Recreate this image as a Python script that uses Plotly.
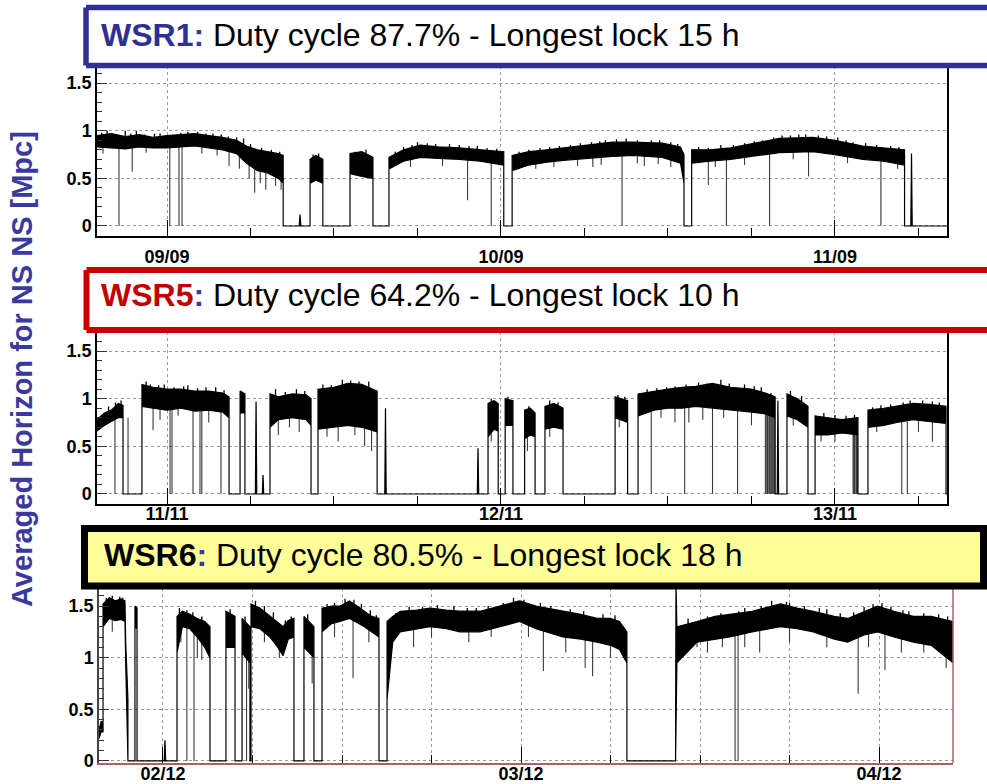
import numpy as np
import plotly.graph_objects as go

W, H = 987, 784

# ---------------- DATA (hours relative to the first labelled day) ----------------
# Panel 1 : WSR1  (envelope of the averaged NS-NS horizon, Mpc)
wsr1_t  = [-5.03, -4, -3, -2, -1, 0, 1, 2, 3, 4, 5, 5.7, 6.5, 7.2, 8, 8.35, 8.35,
           9.5, 9.56, 9.62, 10.28, 10.28, 10.7, 11.2, 11.2, 13.15, 13.15, 14, 14.8, 14.8,
           15.95, 15.95, 17, 18.2, 19.5, 21, 22.5, 24.2, 24.2, 24.8, 24.8, 26, 27.3, 28.5,
           30, 32, 33.5, 35.6, 36.9, 37.15, 37.15, 37.7, 37.7, 39, 40.5, 42, 44, 46.4, 48,
           50, 51.5, 53.0, 53.0, 53.45, 53.5, 53.55, 56.05]
wsr1_hi = [.95, .97, .94, .96, .93, .95, .96, .97, .95, .93, .90, .84, .80, .78, .76, .74, 0,
           0, .12, 0, 0, .70, .74, .70, 0, 0, .76, .78, .72, 0,
           0, .72, .80, .85, .83, .82, .80, .78, 0, 0, .74, .78, .80, .82,
           .85, .88, .88, .87, .83, .75, 0, 0, .80, .80, .82, .86, .92, .93, .90,
           .84, .82, .80, 0, 0, .76, 0, 0]
wsr1_lo = [.83, .82, .81, .83, .82, .82, .83, .84, .82, .80, .76, .66, .58, .56, .50, .45, 0,
           0, 0, 0, 0, .45, .48, .45, 0, 0, .55, .52, .50, 0,
           0, .60, .68, .72, .71, .70, .68, .64, 0, 0, .58, .64, .67, .69,
           .71, .73, .74, .72, .66, .45, 0, 0, .66, .68, .70, .73, .77, .78, .75,
           .70, .68, .64, 0, 0, 0, 0, 0]
wsr1_dip_t = [-3.45, -2.5, 0.2, 0.86, 1.08, 4.46, 6.3, 7.1, 7.8, 21.6, 23.3, 32.7,
              38.9, 40.2, 43.3, 46.1, 51.3,
              -4.6, -1.5, 2.5, 3.6, 5.2, 5.9, 6.7, 8.2, 17.5, 19.8, 26.5, 27.8, 29.5,
              30.6, 31.2, 33.8, 34.3, 35.3, 36.2, 39.4, 41.5, 45.0, 48.9, 52.5]
wsr1_dip_y = [0, .57, 0, 0, 0, .63, .35, .38, .42, .27, 0, 0,
              .43, 0, 0, .52, 0,
              .76, .77, .76, .74, .60, .50, .45, .38, .62, .63, .60, .62, .63,
              .62, .64, .66, .63, .65, .62, .62, .64, .70, .66, .60]
wsr1_peak_t = [-4.7, -4.3, -3.8, -3.0, -2.6, -2.2, -1.6, -0.9, -0.5, 0.4, 1.0, 1.5, 2.2, 2.8,
               3.3, 3.9, 4.4, 5.0, 5.5, 6.0, 6.8, 7.5, 8.1, 10.5, 10.9, 13.5, 14.3,
               16.4, 17.0, 17.6, 18.0, 18.7, 19.3, 20.3, 21.0, 21.7, 22.3, 23.0, 23.7,
               25.3, 26.0, 26.8, 27.5, 28.2, 29.0, 29.7, 30.5, 31.1, 31.5, 32.3, 33.0, 33.8,
               34.8, 35.4, 36.2, 36.7, 38.2, 38.9, 39.8, 40.7, 41.5, 42.2, 42.8, 43.6, 44.2,
               44.8, 45.4, 45.9, 46.8, 47.4, 48.2, 48.8, 49.3, 50.2, 51.0, 52.0, 52.6]
wsr1_peak_y = [.98, 1.0, .96, 1.0, .97, 1.0, .96, .97, .97, .96, .98, .99, .99, .97,
               .97, .96, .94, .93, .92, .86, .82, .80, .78, .75, .76, .78, .80,
               .78, .83, .85, .88, .87, .86, .86, .85, .84, .84, .82, .81,
               .78, .80, .82, .83, .84, .85, .87, .88, .89, .90, .91, .92, .90,
               .90, .90, .88, .86, .83, .82, .85, .85, .87, .89, .90, .93, .95,
               .95, .96, .96, .95, .94, .93, .90, .88, .87, .85, .84, .83]

# Panel 2 : WSR5
wsr5_t  = [-5.03, -4.5, -4.0, -3.5, -3.16, -3.16, -1.8, -1.8, -1.0, 0, 1, 2, 3, 4, 4.46, 4.46,
           5.25, 5.25, 5.6, 5.6, 6.35, 6.4, 6.45, 6.85, 6.9, 6.95, 7.4, 7.4, 8.0, 9.0, 10.0,
           10.35, 10.35, 10.85, 10.85, 12, 13, 14, 15.1, 15.1, 15.65, 15.7, 15.75, 22.3, 22.35,
           22.4, 23.07, 23.07, 23.5, 23.8, 23.8, 24.3, 24.3, 24.86, 24.86, 25.7, 25.7, 26.1,
           26.45, 26.45, 27.16, 27.16, 27.8, 28.46, 28.46, 32.2, 32.2, 32.6, 33.1, 33.1,
           33.85, 33.85, 35, 36, 37, 38, 39.2, 40.5, 42, 43.0, 43.7, 43.7, 43.85, 43.9, 43.95,
           44.55, 44.55, 45.3, 46.06, 46.06, 46.57, 46.57, 47.5, 48.5, 49.65, 49.65, 50.37,
           50.37, 51.5, 52.45, 53.6, 54.8, 55.98, 55.98, 56.05]
wsr5_hi = [.78, .85, .88, .95, .93, 0, 0, 1.15, 1.12, 1.10, 1.10, 1.08, 1.08, 1.06, 1.02, 0,
           0, 1.08, 1.05, 0, 0, .97, 0, 0, .20, 0, 0, 1.05, 1.02, 1.05, 1.04,
           1.0, 0, 0, 1.10, 1.12, 1.16, 1.15, 1.08, 0, 0, .90, 0, 0, .48,
           0, 0, .95, .98, .95, 0, 0, 1.0, .98, 0, 0, .88, .90,
           .85, 0, 0, .92, .95, .90, 0, 0, 1.02, 1.0, .98, 0,
           0, 1.05, 1.08, 1.10, 1.12, 1.13, 1.16, 1.12, 1.10, 1.06, 1.02, 0, 0, .98, 0,
           0, 1.05, 1.0, .92, 0, 0, .82, .80, .78, .80, 0, 0,
           .88, .90, .92, .95, .94, .92, 0, 0]
wsr5_lo = [.66, .72, .76, .80, .80, 0, 0, .92, .90, .88, .90, .87, .88, .86, .80, 0,
           0, .85, .85, 0, 0, 0, 0, 0, 0, 0, 0, .70, .78, .80, .78,
           .72, 0, 0, .68, .70, .72, .70, .65, 0, 0, 0, 0, 0, 0,
           0, 0, .60, .68, .66, 0, 0, .72, .72, 0, 0, .58, .62,
           .60, 0, 0, .68, .70, .68, 0, 0, .80, .78, .75, 0,
           0, .82, .88, .90, .90, .92, .90, .88, .86, .84, .80, 0, 0, 0, 0,
           0, .82, .78, .70, 0, 0, .62, .62, .64, .62, 0, 0,
           .70, .72, .75, .78, .76, .74, 0, 0]
wsr5_dip_t = [-3.74, -1.0, 0.22, 0.36, 1.87, 2.37, 2.5, 3.88, 8.0, 14.7, 34.8, 37.2, 37.5,
              39.2, 41.0, 43.0, 43.1, 43.15, 43.2, 43.3, 43.35, 43.45, 43.5, 43.6, 43.65,
              49.3, 49.35, 49.4, 49.5, 49.55, 49.6, 52.8, 53.2, 55.0,
              -2.8, -0.5, 0.8, 3.0, 8.8, 9.5, 11.5, 12.3, 13.5, 14.2, 23.3, 25.9, 27.5,
              32.5, 35.5, 36.5, 38.5, 40.0, 42.0, 45.0, 47.0, 48.0, 51.0, 54.0]
wsr5_dip_y = [0, .67, 0, 0, 0, 0, 0, 0, .62, .45, 0, 0, .75,
              0, 0, 0, 0, 0, 0, 0, 0, 0, 0, 0, 0,
              0, 0, 0, 0, 0, 0, 0, 0, .55,
              .80, .78, .82, .75, .70, .65, .60, .55, .62, .50, .55, .45, .60,
              .70, .80, .75, .78, .80, .72, .72, .55, .55, .65, .65]
wsr5_peak_t = [-4.7, -4.2, -3.7, -3.3, -1.5, -1.2, -0.6, -0.2, 0.5, 1.2, 1.5, 2.2, 2.8, 3.5,
               4.1, 7.8, 8.5, 9.3, 9.9, 11.2, 11.8, 12.6, 13.2, 13.8, 14.5, 23.3, 24.5, 26.0,
               27.5, 28.1, 32.4, 32.9, 34.5, 35.2, 35.9, 36.5, 37.3, 38.2, 38.8, 39.8, 40.4,
               41.5, 42.2, 42.7, 43.4, 44.8, 45.6, 47.2, 48.0, 48.8, 49.4, 50.7, 51.3, 52.0,
               52.9, 53.4, 54.3, 55.0, 55.5]
wsr5_peak_y = [.83, .92, .96, .98, 1.18, 1.15, 1.14, 1.15, 1.12, 1.13, 1.14, 1.11, 1.12, 1.12,
               1.09, 1.10, 1.07, 1.10, 1.08, 1.15, 1.14, 1.20, 1.19, 1.18, 1.18, 1.0, 1.02, .92,
               .98, .96, 1.04, 1.02, 1.10, 1.11, 1.12, 1.13, 1.15, 1.17, 1.16, 1.20, 1.16,
               1.15, 1.13, 1.12, 1.06, 1.08, 1.03, .85, .83, .82, .83, .91, .93, .94,
               .96, .98, .98, .97, .96]

# Panel 3 : WSR6
wsr6_t  = [-4.29, -4.15, -4.02, -4.02, -3.6, -3.2, -2.8, -2.55, -2.5, -2.35, -2.35, -1.88, -1.88,
           -1.74, -1.74, 0.08, 0.13, 0.18, 0.94, 0.94, 1.3, 1.8, 2.3, 2.8, 3.15, 3.15, 4.22, 4.22,
           4.83, 4.83, 5.3, 5.3, 5.83, 5.83, 5.9, 5.9, 6.5, 7.17, 7.6, 8.05, 8.4, 8.78, 8.78,
           9.45, 9.45, 9.8, 10.12, 10.12, 10.66, 10.66, 11.3, 11.87, 12.5, 13.0, 13.5, 14.0,
           14.48, 14.48, 15.02, 15.02, 15.4, 15.9, 17, 17.9, 19, 19.9, 21.25, 22.5, 23.9, 25,
           26.8, 28, 29.1, 30.0, 30.6, 31.1, 31.1, 34.36, 34.39, 34.45, 35.8, 37, 38.0, 39.5,
           41.4, 42.5, 43.6, 45, 45.9, 47, 47.9, 49, 50.3, 51.5, 52.96]
wsr6_hi = [.30, .38, .38, 1.52, 1.58, 1.55, 1.57, 1.55, 1.15, .60, 0, 0, 1.50,
           1.48, 0, 0, .20, 0, 0, 1.40, 1.45, 1.42, 1.38, 1.35, 1.30, 0, 0, 1.45,
           1.40, 0, 0, 1.38, 1.30, 0, 0, 1.52, 1.48, 1.40, 1.35, 1.30, 1.36, 1.38, 0,
           0, 1.40, 1.35, 1.30, 0, 0, 1.48, 1.50, 1.50, 1.55, 1.50, 1.45, 1.40,
           1.38, 0, 0, 1.35, 1.40, 1.45, 1.46, 1.48, 1.46, 1.45, 1.45, 1.50, 1.55, 1.50,
           1.45, 1.42, 1.38, 1.38, 1.35, 1.25, 0, 0, 1.72, 1.30, 1.35, 1.40, 1.42, 1.45,
           1.52, 1.48, 1.45, 1.40, 1.38, 1.45, 1.50, 1.45, 1.40, 1.40, 1.35]
wsr6_lo = [.22, .28, .28, 1.30, 1.38, 1.36, 1.37, 1.35, .95, 0, 0, 0, 1.30,
           1.28, 0, 0, 0, 0, 0, 1.05, 1.30, 1.28, 1.20, 1.10, 1.00, 0, 0, 1.10,
           1.10, 0, 0, 1.05, .95, 0, 0, 1.30, 1.28, 1.20, 1.12, 1.02, 1.18, 1.20, 0,
           0, 1.10, 1.05, 1.00, 0, 0, 1.25, 1.33, 1.35, 1.38, 1.34, 1.30, 1.25,
           1.20, 0, 0, .60, 1.15, 1.25, 1.28, 1.30, 1.28, 1.25, 1.25, 1.30, 1.35, 1.28,
           1.20, 1.18, 1.15, 1.12, 1.08, .95, 0, 0, 0, .95, 1.15, 1.18, 1.20, 1.25,
           1.30, 1.28, 1.25, 1.18, 1.15, 1.22, 1.25, 1.20, 1.15, 1.12, .95]
wsr6_dip_t = [1.6, 2.08, 2.6, 5.6, 5.75, 10.0, 12.74, 16.8, 25.5, 28.3, 28.8, 35.8,
              38.35, 38.55, 40.0, 46.6, 48.4,
              -3.4, 1.2, 2.3, 6.8, 7.8, 11.5, 13.8, 18.0, 20.5, 22.0, 24.5, 27.0, 30.0,
              36.5, 37.5, 39.0, 42.0, 44.5, 47.3, 49.5, 51.0, 52.5]
wsr6_dip_y = [0, 0, .98, 0, .70, .75, .80, 1.10, .87, .90, .82, 1.10,
              0, 0, 1.05, .65, .88,
              1.25, 1.15, 1.00, 1.15, 1.00, 1.20, 1.15, 1.20, 1.15, 1.20, 1.20, 1.05, 1.00,
              1.05, 1.10, 1.10, 1.15, 1.10, 1.10, 1.05, 1.05, .90]
wsr6_peak_t = [-3.8, -3.4, -2.9, -2.7, 1.1, 1.6, 2.0, 2.6, 4.5, 5.5, 6.2, 6.8, 7.4, 8.2, 8.6,
               9.7, 11.0, 11.5, 12.2, 12.8, 13.3, 13.9, 14.3, 15.6, 16.5, 17.4, 18.4, 19.5,
               20.4, 21.0, 21.8, 22.8, 23.5, 24.2, 25.3, 26.0, 27.3, 28.2, 29.5, 30.3,
               35.2, 36.5, 37.4, 38.6, 39.0, 40.1, 40.8, 41.8, 42.0, 43.0, 44.0, 44.5, 45.4,
               46.3, 47.0, 47.6, 48.2, 48.8, 49.6, 50.0, 51.0, 52.0, 52.6]
wsr6_peak_y = [1.58, 1.60, 1.59, 1.58, 1.48, 1.46, 1.44, 1.40, 1.47, 1.40, 1.55, 1.50, 1.44,
               1.36, 1.40, 1.42, 1.52, 1.53, 1.57, 1.56, 1.52, 1.46, 1.41, 1.43, 1.49, 1.49,
               1.51, 1.50, 1.48, 1.48, 1.50, 1.53, 1.58, 1.56, 1.53, 1.50, 1.47, 1.45, 1.42,
               1.41, 1.38, 1.40, 1.43, 1.45, 1.48, 1.50, 1.55, 1.54, 1.53, 1.50, 1.48, 1.47,
               1.43, 1.44, 1.49, 1.52, 1.53, 1.49, 1.46, 1.45, 1.43, 1.42, 1.40]

day_ticks = [0, 24, 48]
wsr1_labels = ["09/09", "10/09", "11/09"]
wsr5_labels = ["11/11", "12/11", "13/11"]
wsr6_labels = ["02/12", "03/12", "04/12"]
y_ticks = [0, 0.5, 1, 1.5]
y_labels = ["0", "0.5", "1", "1.5"]

titles = [
    ("WSR1", "#2E3192", "Duty cycle 87.7% - Longest lock 15 h"),
    ("WSR5", "#C00000", "Duty cycle 64.2% - Longest lock 10 h"),
    ("WSR6", "#000000", "Duty cycle 80.5% - Longest lock 18 h"),
]

# ---------------- FIGURE ----------------
KY = 1.0116  # vertical correction observed in the rendered page


def px_x(p):
    return p / W


def px_y(p):
    return 1 - p * KY / H


fig = go.Figure()

panels = [
    (wsr1_t, wsr1_hi, wsr1_lo, wsr1_dip_t, wsr1_dip_y, wsr1_peak_t, wsr1_peak_y, "x", "y"),
    (wsr5_t, wsr5_hi, wsr5_lo, wsr5_dip_t, wsr5_dip_y, wsr5_peak_t, wsr5_peak_y, "x2", "y2"),
    (wsr6_t, wsr6_hi, wsr6_lo, wsr6_dip_t, wsr6_dip_y, wsr6_peak_t, wsr6_peak_y, "x3", "y3"),
]

for t, hi, lo, dt, dy, pt, py, xa, ya in panels:
    t = list(t)
    xs = t + t[::-1]
    ys = list(hi) + list(lo)[::-1]
    top = np.interp(dt, t, hi)
    lx, ly = [], []
    for a, b, c in zip(dt, dy, top):
        lx += [a, a, None]
        ly += [b, c, None]
    fig.add_trace(go.Scatter(x=lx, y=ly, mode="lines", line=dict(color="#3a3a3a", width=1.1),
                             xaxis=xa, yaxis=ya, showlegend=False, hoverinfo="skip"))
    fig.add_trace(go.Scatter(x=xs, y=ys, mode="lines", fill="toself", fillcolor="black",
                             line=dict(color="black", width=1.2), xaxis=xa, yaxis=ya,
                             showlegend=False, hoverinfo="skip"))
    base = np.interp(pt, t, lo)
    ux, uy = [], []
    for a, b, c in zip(pt, py, base):
        ux += [a, a, None]
        uy += [c, b, None]
    fig.add_trace(go.Scatter(x=ux, y=uy, mode="lines", line=dict(color="black", width=1.3),
                             xaxis=xa, yaxis=ya, showlegend=False, hoverinfo="skip"))

tickfont = dict(family="Liberation Sans, Arial", size=18, color="black")


def xaxis_cfg(dom, rng, labels, anchor, color="black", mirror=True, grid6=False, standoff=2):
    return dict(domain=dom, range=rng, anchor=anchor, tickmode="array", tickvals=day_ticks,
                ticktext=[f"<b>{s}</b>" for s in labels], tickfont=tickfont,
                ticks="inside", ticklen=16, tickcolor="black", showline=True,
                linecolor=color, linewidth=1.5, mirror=mirror, zeroline=False,
                showgrid=True, gridcolor="#9a9a9a", griddash="dot", gridwidth=1,
                ticklabelstandoff=standoff,
                minor=dict(tickmode="linear", tick0=0, dtick=6, ticks="inside", ticklen=8,
                           tickcolor="black", showgrid=grid6, gridcolor="#9a9a9a",
                           griddash="dot"),
                fixedrange=True)


def yaxis_cfg(dom, rng, anchor, color="black", mirror=True):
    return dict(domain=dom, range=rng, anchor=anchor, tickmode="array", tickvals=y_ticks,
                ticktext=[f"<b>{s}</b>" for s in y_labels], tickfont=tickfont,
                ticks="inside", ticklen=10, tickcolor="#333", showline=True,
                linecolor=color, linewidth=1.5, mirror=mirror, zeroline=False,
                showgrid=True, gridcolor="#9a9a9a", griddash="dot", gridwidth=1,
                minor=dict(tickmode="linear", tick0=0, dtick=0.1, ticks="inside",
                           ticklen=5, tickcolor="#333"),
                fixedrange=True)


fig.update_layout(
    width=W, height=H, margin=dict(l=0, r=0, t=0, b=0),
    paper_bgcolor="white", plot_bgcolor="white",
    xaxis=xaxis_cfg([px_x(97), px_x(947)], [-5.03, 56.05], wsr1_labels, "y", standoff=4),
    yaxis=yaxis_cfg([px_y(236), px_y(66)], [-0.105, 1.68], "x"),
    xaxis2=xaxis_cfg([px_x(97), px_x(947)], [-5.03, 56.05], wsr5_labels, "y2", standoff=-7),
    yaxis2=yaxis_cfg([px_y(504), px_y(332)], [-0.105, 1.70], "x2"),
    xaxis3=xaxis_cfg([px_x(99), px_x(953)], [-4.29, 52.96], wsr6_labels, "y3",
                     color="#a86464", mirror=False, grid6=True, standoff=-6),
    yaxis3=yaxis_cfg([px_y(763), px_y(588)], [-0.02, 1.675], "x3", color="#444", mirror=False),
)

# right frame edge of panel 3
fig.add_shape(type="line", xref="paper", yref="paper", x0=px_x(953), x1=px_x(953),
              y0=px_y(763), y1=px_y(588), line=dict(color="#a86464", width=1.5))

# title boxes (the first two run off the right edge of the picture: no right side)
boxes = [
    (86, 7.5, 1.04, 65.5, "#2E3192", "white", 5.5, 99, 35, False),
    (86.5, 270, 1.04, 330, "#CC0000", "white", 6, 99, 295, False),
    (84.5, 528.5, 983.5, 586, "#000000", "#FFFF99", 7, 102, 555, True),
]
for (x0, y0, x1, y1, lc, fc, lw, tx, ty, closed), (name, ncol, rest) in zip(boxes, titles):
    X0, Y0, Y1 = px_x(x0), px_y(y1), px_y(y0)
    if closed:
        X1 = px_x(x1)
        fig.add_shape(type="rect", xref="paper", yref="paper", x0=X0, x1=X1, y0=Y0, y1=Y1,
                      line=dict(color=lc, width=lw), fillcolor=fc, layer="above")
    else:
        X1 = x1
        fig.add_shape(type="rect", xref="paper", yref="paper", x0=X0, x1=X1, y0=Y0, y1=Y1,
                      line=dict(width=0), fillcolor=fc, layer="above")
        for (a0, b0, a1, b1) in [(X0, Y0, X1, Y0), (X0, Y1, X1, Y1), (X0, Y0, X0, Y1)]:
            fig.add_shape(type="line", xref="paper", yref="paper", x0=a0, y0=b0, x1=a1, y1=b1,
                          line=dict(color=lc, width=lw), layer="above")
    fig.add_annotation(xref="paper", yref="paper", x=px_x(tx), y=px_y(ty),
                       xanchor="left", yanchor="middle", showarrow=False,
                       text=(f"<b><span style='color:{ncol}'>{name}</span>"
                             f"<span style='color:#3A3A9E'>:</span></b> {rest}"),
                       font=dict(family="Liberation Sans, Arial", size=32, color="black"))

# y axis title
fig.add_annotation(xref="paper", yref="paper", x=px_x(22), y=px_y(369),
                   xanchor="center", yanchor="middle", showarrow=False, textangle=-90,
                   text="<b>Averaged Horizon for NS NS [Mpc]</b>",
                   font=dict(family="Liberation Sans, Arial", size=29, color="#3A3A9E"))

fig.write_html("out.html", config={"displayModeBar": False})

# remove the default page margin so the figure sits at the window's top-left corner
with open("out.html", "r", encoding="utf-8") as f:
    html = f.read()
html = html.replace("<head>", "<head><style>html,body{margin:0;padding:0;overflow:hidden}</style>", 1)
with open("out.html", "w", encoding="utf-8") as f:
    f.write(html)
